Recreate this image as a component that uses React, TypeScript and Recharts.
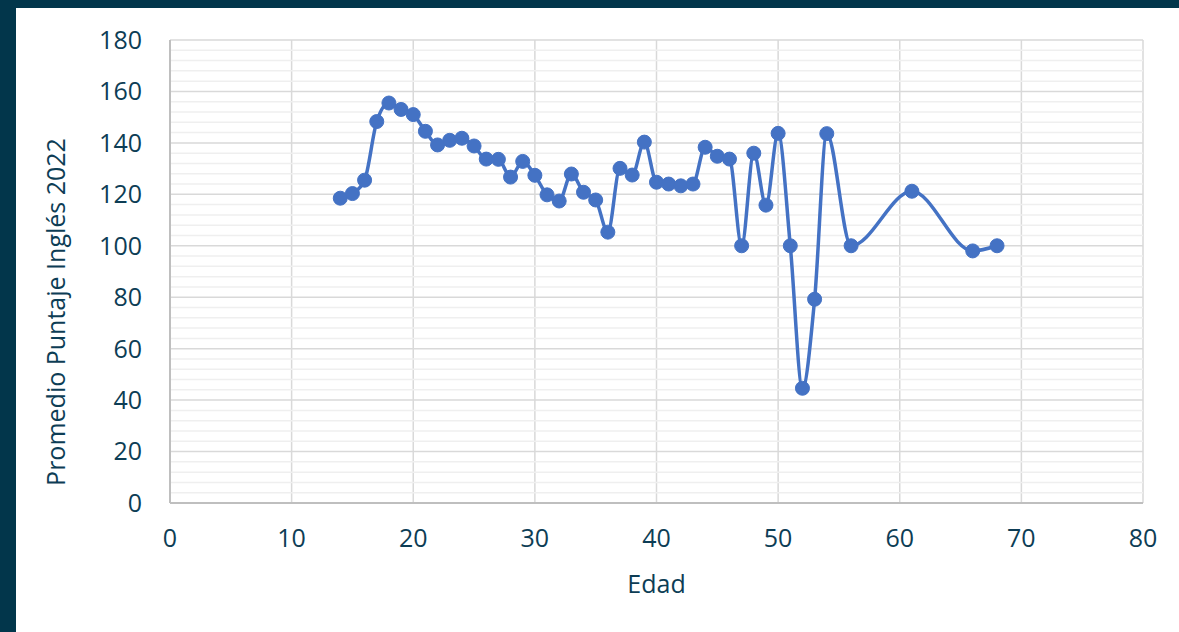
import { LineChart, Line, XAxis, YAxis, CartesianGrid, ReferenceLine, Label } from 'recharts'

const edades = [
  14, 15, 16, 17, 18, 19, 20, 21, 22, 23, 24, 25, 26, 27, 28, 29, 30, 31, 32, 33, 34, 35, 36, 37, 38, 39,
  40, 41, 42, 43, 44, 45, 46, 47, 48, 49, 50, 51, 52, 53, 54, 56, 61, 66, 68,
]
const puntajes = [
  118.5, 120.3, 125.5, 148.3, 155.5, 153, 151, 144.5, 139.2, 141, 141.8, 138.8, 133.7, 133.6, 126.7, 132.8,
  127.4, 119.8, 117.4, 127.9, 120.8, 117.8, 105.3, 130.1, 127.5, 140.3, 124.7, 124, 123.3, 124, 138.3, 134.8,
  133.7, 100, 136, 115.8, 143.7, 100, 44.6, 79.2, 143.6, 100, 121.2, 98, 100,
]
const xTicks = [0, 10, 20, 30, 40, 50, 60, 70, 80]
const yTicks = [0, 20, 40, 60, 80, 100, 120, 140, 160, 180]
const yMinor = [
  4, 8, 12, 16, 24, 28, 32, 36, 44, 48, 52, 56, 64, 68, 72, 76, 84, 88, 92, 96, 104, 108, 112, 116,
  124, 128, 132, 136, 144, 148, 152, 156, 164, 168, 172, 176,
]

const data = edades.map((edad, i) => ({ edad, puntaje: puntajes[i] }))

const textColor = '#0d3d55'
const font = '"Open Sans", sans-serif'
const blue = '#4472c4'

export default function App() {
  return (
    <div style={{ position: 'relative', width: 1179, height: 632, background: '#02364b', fontFamily: font }}>
      <style>{'body{margin:0}'}</style>
      <div style={{ position: 'absolute', left: 16, top: 8, right: 0, bottom: 0, background: '#fff' }} />
      <div style={{ position: 'absolute', left: 0, top: 0 }}>
        <LineChart width={1179} height={632} data={data} margin={{ top: 40, right: 36, bottom: 0, left: 0 }}>
          {yMinor.map((v) => (
            <ReferenceLine key={v} y={v} stroke="#efefef" strokeWidth={1.5} />
          ))}
          <CartesianGrid stroke="#d9d9d9" strokeWidth={1.5} />
          <XAxis
            type="number"
            dataKey="edad"
            domain={[0, 80]}
            ticks={xTicks}
            height={129}
            tickSize={0}
            tickMargin={26}
            axisLine={{ stroke: '#bfbfbf', strokeWidth: 2 }}
            tick={{ fill: textColor, fontSize: 25, fontFamily: font }}
          >
            <Label
              value="Edad"
              position="insideBottom"
              offset={39}
              style={{ fill: textColor, fontSize: 25, fontFamily: font }}
            />
          </XAxis>
          <YAxis
            type="number"
            domain={[0, 180]}
            ticks={yTicks}
            width={170}
            tickSize={0}
            tickMargin={28}
            axisLine={{ stroke: '#bfbfbf', strokeWidth: 2 }}
            tick={{ fill: textColor, fontSize: 25, fontFamily: font }}
          >
            <Label
              content={() => (
                <text
                  x={65}
                  y={312}
                  transform="rotate(-90, 65, 312)"
                  textAnchor="middle"
                  fill={textColor}
                  fontSize={25}
                  fontFamily={font}
                >
                  Promedio Puntaje Inglés 2022
                </text>
              )}
            />
          </YAxis>
          <Line
            type="monotone"
            dataKey="puntaje"
            stroke={blue}
            strokeWidth={3.5}
            dot={{ r: 7, fill: blue, stroke: blue, strokeWidth: 1 }}
            activeDot={false}
            isAnimationActive={false}
          />
        </LineChart>
      </div>
    </div>
  )
}
